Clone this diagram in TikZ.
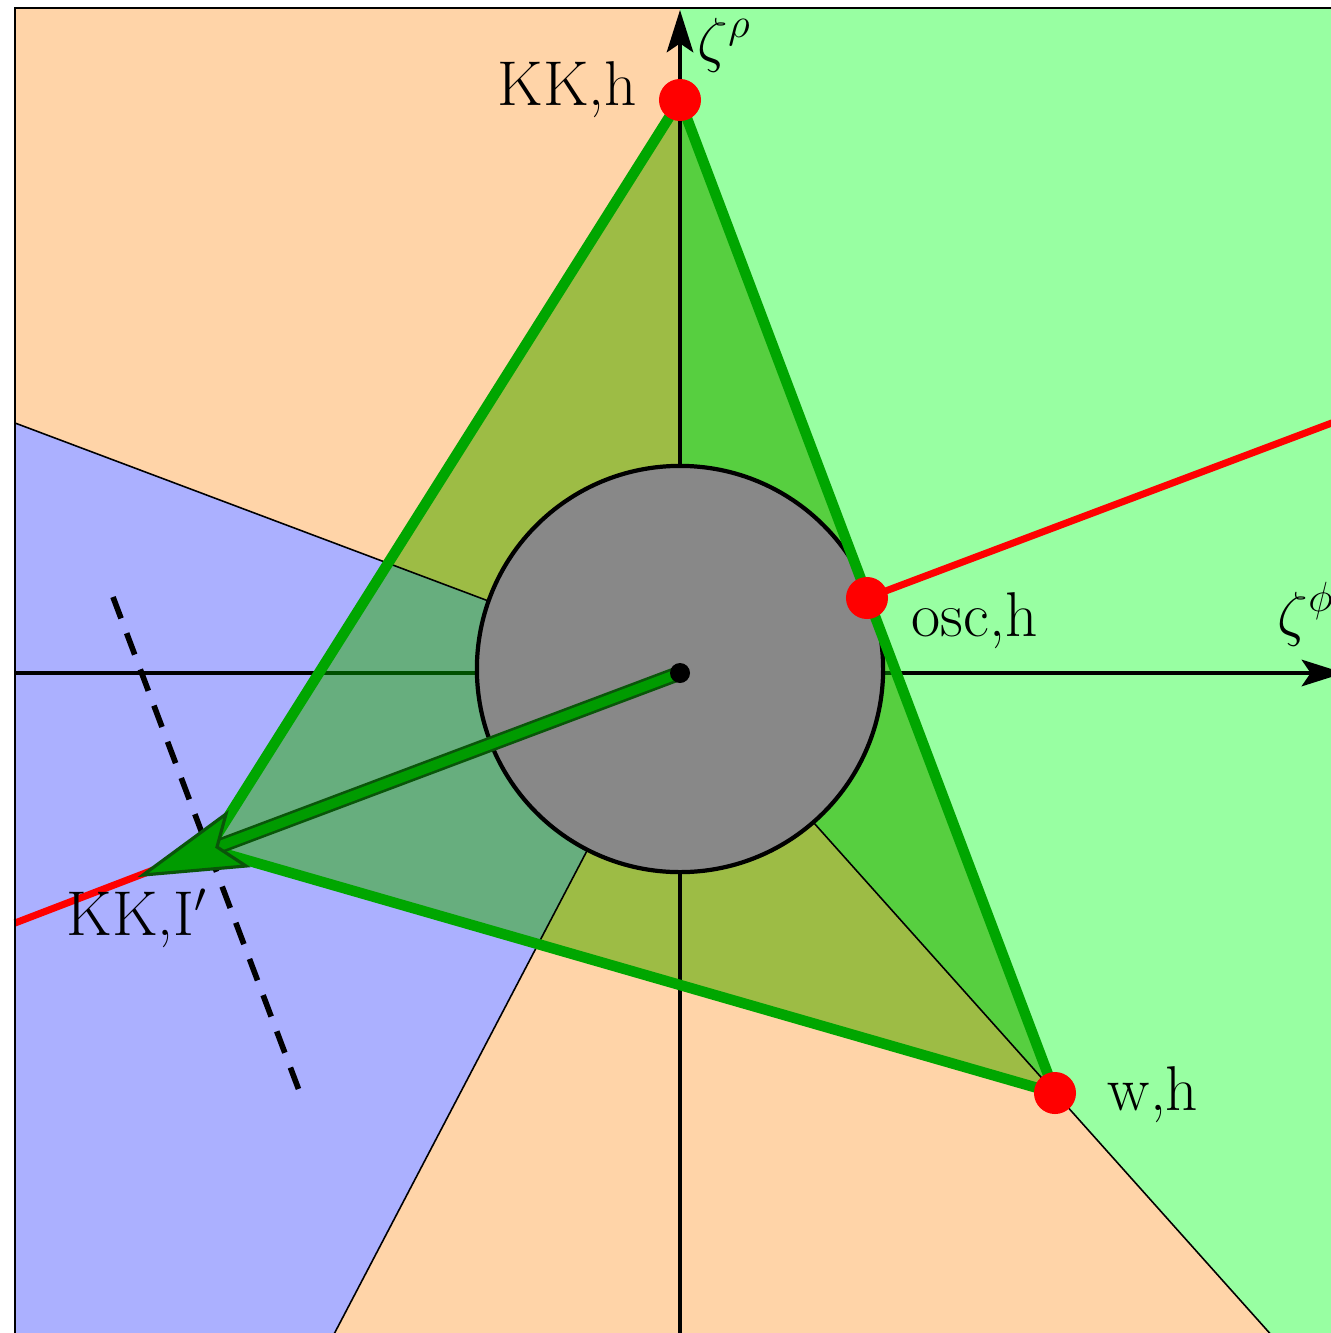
\documentclass[tikz,border=0pt]{standalone}
\usetikzlibrary{arrows.meta}
\definecolor{peach}{RGB}{255,212,168}
\definecolor{lgreen}{RGB}{152,255,162}
\definecolor{lblue}{RGB}{171,176,255}
\definecolor{olivetri}{RGB}{157,188,69}
\definecolor{mgreen}{RGB}{87,207,64}
\definecolor{tgreen}{RGB}{103,174,126}
\definecolor{circgray}{RGB}{136,136,136}
\definecolor{axisdark}{RGB}{0,80,0}
\definecolor{tristroke}{RGB}{0,166,0}
\definecolor{darkg}{RGB}{10,85,10}
\definecolor{arrowgreen}{RGB}{0,155,0}
\begin{document}
\begin{tikzpicture}[x=0.01cm,y=-0.01cm,
  lbl/.style={inner sep=0pt, font=\fontsize{18pt}{22pt}\selectfont},
  thinb/.style={line width=0.45pt, black},
  axisline/.style={line width=1.3pt, -{Stealth[length=12pt,width=7.5pt,inset=2.5pt]}},
  redray/.style={red, line width=2pt},
  reddot/.style={fill=red},
  dashline/.style={line width=1.6pt, dash pattern=on 6.5pt off 4.5pt}
]
\useasboundingbox (0,0) rectangle (1331,1333);
\clip (0,0) rectangle (1331,1333);
\coordinate (O) at (680,673);
\coordinate (Oc) at (680,669);
\coordinate (A) at (680,100);
\coordinate (B) at (1055,1093);
\coordinate (C) at (208,849);
\coordinate (S) at (867,598);
\coordinate (T) at (143,875);
\coordinate (N) at (217,847);
\coordinate (U) at (226,814);
\coordinate (L) at (246,866);
\coordinate (F1) at (15,8);
\coordinate (F2) at (1345,1338);
\coordinate (Ftr) at (1345,8);
\coordinate (Fbl) at (15,1338);
\coordinate (bt) at (15,423);
\coordinate (bb) at (332,1338);
\coordinate (gb) at (1274,1338);
\coordinate (gt) at (680,8);
\coordinate (d1) at (113,597);
\coordinate (d2) at (300,1093);
\coordinate (rl) at (15,923);
\coordinate (rr) at (1345,418);
\coordinate (xl) at (15,673);
\coordinate (xr) at (1344,673);
\coordinate (yb) at (680,1338);
\coordinate (yt) at (680,10);

\fill[white] (0,0) rectangle (1331,1333);
\fill[peach] (F1) rectangle (F2);
\fill[lgreen] (O) -- (gt) -- (Ftr) -- (F2) -- (gb) -- cycle;
\fill[lblue] (O) -- (bt) -- (Fbl) -- (bb) -- cycle;
\draw[axisline] (xl) -- (xr);
\begin{scope}
  \clip (A) -- (B) -- (C) -- cycle;
  \fill[olivetri] (A) -- (B) -- (C) -- cycle;
  \fill[mgreen] (O) -- (gt) -- (Ftr) -- (F2) -- (gb) -- cycle;
  \fill[tgreen] (O) -- (bt) -- (Fbl) -- (bb) -- cycle;
  \draw[axisdark, line width=1.3pt] (xl) -- (xr);
\end{scope}
\draw[axisline] (yb) -- (yt);
\draw[thinb] (O) -- (bt);
\draw[thinb] (O) -- (bb);
\draw[thinb] (O) -- (gb);
\draw[line width=1.2pt, fill=circgray] (Oc) circle[radius=2.03cm];
\draw[tristroke, line width=3pt, line join=round] (A) -- (B) -- (C) -- cycle;
\draw[redray] (S) -- (rr);
\draw[redray] (C) -- (rl);
\draw[dashline] (d1) -- (d2);
\draw[darkg, line width=4.3pt] (O) -- (N);
\draw[arrowgreen, line width=2.8pt] (O) -- (N);
\filldraw[fill=arrowgreen, draw=darkg, line width=0.9pt, line join=miter] (T) -- (U) -- (N) -- (L) -- cycle;
\fill[black] (O) circle[radius=0.1cm];
\fill[reddot] (A) circle[radius=0.21cm];
\fill[reddot] (S) circle[radius=0.21cm];
\fill[reddot] (B) circle[radius=0.21cm];
\node[lbl, anchor=base west] (lKKh) at (497,105) {KK,h};
\node[lbl, anchor=base west] (losc) at (911,636) {osc,h};
\node[lbl, anchor=base west] (lwh) at (1107,1110) {w,h};
\node[lbl, anchor=base west] (lKKI) at (66,935) {KK,I$'$};
\node[lbl, anchor=base west] (lrho) at (697,60) {$\zeta^{\rho}$};
\node[lbl, anchor=base west] (lphi) at (1277,634) {$\zeta^{\phi}$};
\draw[line width=0.85pt] (F1) rectangle (F2);
\end{tikzpicture}
\end{document}
